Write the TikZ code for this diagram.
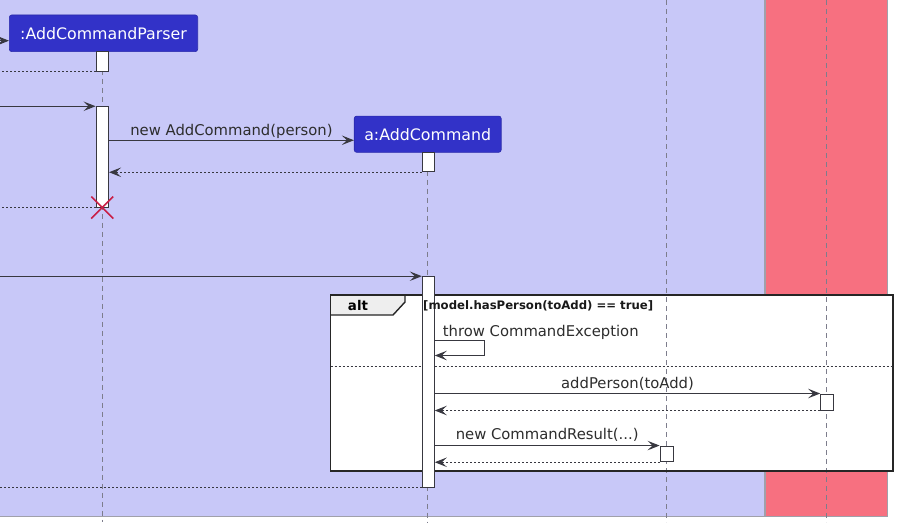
\documentclass[tikz,border=0pt]{standalone}
\usepackage{fontspec}
\setmainfont{DejaVu Sans}
\usetikzlibrary{arrows.meta,calc}
\definecolor{lav}{RGB}{200,200,248}
\definecolor{redbox}{RGB}{247,112,128}
\definecolor{partblue}{RGB}{50,50,200}
\definecolor{linec}{RGB}{56,56,64}
\definecolor{lifec}{RGB}{125,125,140}
\definecolor{textc}{RGB}{45,45,45}
\definecolor{bordc}{RGB}{160,160,170}
\definecolor{destroyc}{RGB}{200,30,70}
\definecolor{tabc}{RGB}{238,238,238}
\newcommand\msgfnt{\fontsize{14.8}{17}\selectfont}
\newcommand\partfnt{\fontsize{15.8}{18}\selectfont}
\newcommand\guardfnt{\fontsize{11.7}{14}\selectfont\bfseries}
\newcommand\altfnt{\fontsize{13.4}{16}\selectfont\bfseries}
\tikzset{
  lifeline/.style={draw=lifec, line width=0.9pt, dash pattern=on 5pt off 4pt},
  actbar/.style={rectangle, draw=linec, fill=white, line width=1pt, minimum width=12.5pt, inner sep=0pt},
  part/.style={rectangle, fill=partblue, draw=partblue!85!black, line width=0.6pt, rounded corners=2.5pt, text=white, font=\partfnt, inner sep=0pt},
  msg/.style={draw=linec, line width=1.1pt, -{Stealth[length=12pt,width=9.5pt,inset=5pt]}},
  ret/.style={draw=linec, line width=0.9pt, dash pattern=on 2pt off 2pt, -{Stealth[length=12pt,width=9.5pt,inset=5pt]}},
  retn/.style={draw=linec, line width=0.9pt, dash pattern=on 2pt off 2pt},
  lbl/.style={text=textc, font=\msgfnt, inner sep=0pt},
  bgbox/.style={draw=bordc, line width=1.2pt},
  frameb/.style={draw=black!85, line width=1.8pt},
  tabst/.style={draw=black!85, line width=1.4pt, fill=tabc},
  sepline/.style={draw=linec, line width=0.9pt, dash pattern=on 2pt off 2pt},
  destroy/.style={draw=destroyc, line width=1.6pt}
}
\begin{document}
\begin{tikzpicture}[x=1pt,y=-1pt]
\useasboundingbox (0,0) rectangle (904,522);
\clip (0,0) rectangle (904,522);
\fill[white] (0,0) rectangle (904,522);
% boxes (backgrounds)
\draw[bgbox, fill=lav] (-5,-5) rectangle (765,516.6);
\draw[bgbox, fill=redbox] (765,-5) rectangle (887.7,516.6);
% alt frame fill
\fill[white] (330.5,295) rectangle (893,470.7);
% participants
\node[part, minimum width=188.4pt, minimum height=36.7pt] (p1) at (103.5,33.3) {:AddCommandParser};
\node[part, minimum width=147pt, minimum height=36.3pt] (p2) at (427.7,134.2) {a:AddCommand};
% lifelines
\coordinate (l3top) at (666.5,0);
\coordinate (l4top) at (826,0);
\draw[lifeline] (p1.south -| 102,0) -- (102,522);
\draw[lifeline] (p2.south -| 427,0) -- (427,522);
\draw[lifeline] (l3top) -- (l3top |- 0,522);
\draw[lifeline] (l4top) -- (l4top |- 0,522);
% alt frame
\draw[tabst] (330.5,295) -- (405,295) -- (405,302) -- (393,315) -- (330.5,315);
\draw[frameb] (330.5,295) rectangle (893,470.7);
\draw[sepline] (330.5,366.7) -- (893,366.7);
% activation bars
\node[actbar, minimum height=19.3pt] (b1) at (102.3,61.4) {};
\node[actbar, minimum height=100.3pt] (b2) at (102.3,156.9) {};
\node[actbar, minimum height=19.7pt] (b3) at (428.3,161.9) {};
\node[actbar, minimum height=210.6pt, minimum width=12pt] (b4) at (428.3,382) {};
\node[actbar, minimum height=16pt, minimum width=13.3pt] (b5) at (827.3,402) {};
\node[actbar, minimum height=15.7pt, minimum width=13.3pt] (b6) at (666.7,453.9) {};
% incoming from the left
\coordinate (in0) at (-2,40.7);
\coordinate (inx) at (-2,0);
\draw[msg] (in0) -- (in0 -| p1.west);
\draw[retn] (b1.south west) -- (b1.south west -| inx);
\node[lbl, anchor=base east] at (1.6,100) {)};
\draw[msg] (b2.north west -| inx) -- (b2.north west);
\path (b2.north east) ++(0,34) coordinate (m2a);
\draw[msg] (m2a) -- node[lbl, midway, anchor=base, yshift=5pt] {new AddCommand(person)} (m2a -| p2.west);
\draw[ret] (b3.south west) -- (b3.south west -| b2.east);
\draw[retn] (b2.south west) -- (b2.south west -| inx);
\draw[destroy] ($(b2.south)+(-11,-11)$) -- ($(b2.south)+(11,11)$);
\draw[destroy] ($(b2.south)+(-11,11)$) -- ($(b2.south)+(11,-11)$);
\draw[msg] (b4.north west -| inx) -- (b4.north west);
\draw[retn] (b4.south west) -- (b4.south west -| inx);
% alt labels
\node[anchor=base, font=\altfnt, text=black, inner sep=0pt] at (358,310) {alt};
\node[anchor=base west, font=\guardfnt, text=black!90, inner sep=0pt] at (423,309.5) {[model.hasPerson(toAdd) == true]};
% self message
\path (b4.north east) ++(0,64) coordinate (s1);
\node[lbl, anchor=base west] at (442.7,336) {throw CommandException};
\draw[msg] (s1) -- ++(50,0) |- ($(s1)+(0,15.3)$);
% addPerson
\draw[msg] (b5.north west -| b4.east) -- node[lbl, midway, anchor=base, yshift=5.5pt] {addPerson(toAdd)} (b5.north west);
\draw[ret] (b5.south west) -- (b5.south west -| b4.east);
% new CommandResult
\draw[msg] (b6.north west -| b4.east) -- node[lbl, midway, anchor=base, yshift=6pt] {new CommandResult(...)} (b6.north west);
\draw[ret] (b6.south west) -- (b6.south west -| b4.east);
\end{tikzpicture}
\end{document}
